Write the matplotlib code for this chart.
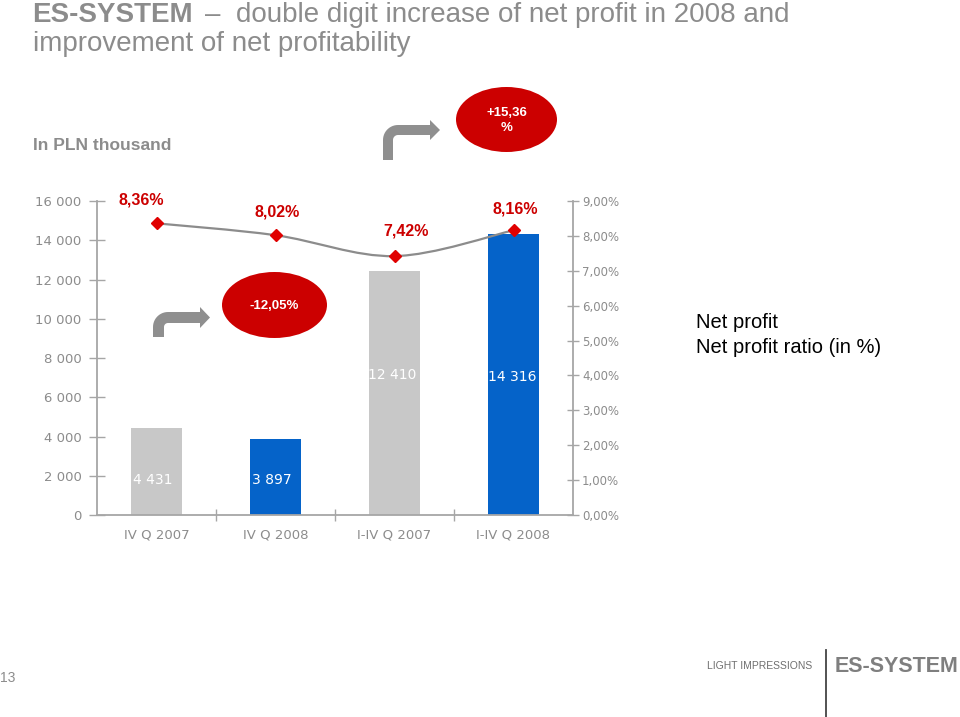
import numpy as np
import matplotlib
matplotlib.use("Agg")
import matplotlib.pyplot as plt
from matplotlib.patches import Ellipse, Polygon, PathPatch
from matplotlib.path import Path
from matplotlib.ticker import FixedLocator

# ---------------- data ----------------
categories = ["IV Q 2007", "IV Q 2008", "I-IV Q 2007", "I-IV Q 2008"]
net_profit = [4431, 3897, 12410, 14316]
net_profit_labels = ["4 431", "3 897", "12 410", "14 316"]
profit_ratio = [8.36, 8.02, 7.42, 8.16]
ratio_labels = ["8,36%", "8,02%", "7,42%", "8,16%"]
left_ticks = [0, 2000, 4000, 6000, 8000, 10000, 12000, 14000, 16000]
left_tick_labels = ["0", "2 000", "4 000", "6 000", "8 000", "10 000", "12 000", "14 000", "16 000"]
right_ticks = [0, 1, 2, 3, 4, 5, 6, 7, 8, 9]
right_tick_labels = ["0,00%", "1,00%", "2,00%", "3,00%", "4,00%", "5,00%", "6,00%", "7,00%", "8,00%", "9,00%"]
change_quarter = "-12,05%"
change_year = "+15,36\n%"

# ---------------- style ----------------
W, H = 960, 717
GRAY_TXT = "#8c8c8c"
AX_GRAY = "#a6a6a6"
RED = "#cc0000"
BAR_COLORS = ["#c8c8c8", "#0563c9", "#c8c8c8", "#0563c9"]
SANS = ["Liberation Sans", "DejaVu Sans"]
TICKF = ["DejaVu Sans"]

fig = plt.figure(figsize=(W / 100, H / 100), dpi=100)
fig.patch.set_facecolor("white")

def fx(x):
    return x / W

def fy(y):
    return 1 - y / H

ax_left, ax_right, ax_top, ax_bot = 97, 573, 201, 515
ax = fig.add_axes([fx(ax_left), fy(ax_bot), (ax_right - ax_left) / W, (ax_bot - ax_top) / H])
ax2 = ax.twinx()

x = np.arange(len(categories))
ax.bar(x, net_profit, width=0.43, color=BAR_COLORS, zorder=2)
ax.set_xlim(-0.5, len(categories) - 0.5)
ax.set_ylim(0, 16000)
ax.set_yticks(left_ticks)
ax.set_yticklabels(left_tick_labels, fontsize=9.5, color=GRAY_TXT, family=TICKF)
ax.set_xticks(x)
ax.set_xticklabels(categories, fontsize=9.5, color=GRAY_TXT, family=TICKF)
ax.xaxis.set_minor_locator(FixedLocator([0.5, 1.5, 2.5]))
ax.tick_params(axis="x", which="major", length=0, pad=10)
ax.tick_params(axis="x", which="minor", direction="inout", length=9, color=AX_GRAY, width=1)
ax.tick_params(axis="y", direction="inout", length=12, color=AX_GRAY, width=1, pad=5)
for s in ["top", "right"]:
    ax.spines[s].set_visible(False)
for s in ["left", "bottom"]:
    ax.spines[s].set_color(AX_GRAY)
    ax.spines[s].set_linewidth(1.3)

# value labels inside bars
label_y = [1780, 1780, 7130, 7030]
label_dx = [-0.03, -0.03, -0.02, -0.01]
for i, (lab, ly) in enumerate(zip(net_profit_labels, label_y)):
    ax.text(i + label_dx[i], ly, lab, color="white", fontsize=10, family=TICKF,
            ha="center", va="center", zorder=3)

# ratio line on secondary axis
ax2.set_ylim(0, 9)
ax2.set_yticks(right_ticks)
ax2.set_yticklabels(right_tick_labels, fontsize=8.5, color=GRAY_TXT, family=TICKF)
ax2.tick_params(axis="y", direction="inout", length=9, color=AX_GRAY, width=1, pad=2)
for s in ["top", "left", "bottom"]:
    ax2.spines[s].set_visible(False)
ax2.spines["right"].set_color(AX_GRAY)
ax2.spines["right"].set_linewidth(1.3)

# smoothed line (Catmull-Rom as cubic Bezier path through the data points)
px = list(x.astype(float))
py = list(profit_ratio)
verts = [(px[0], py[0])]
codes = [Path.MOVETO]
n = len(px)
for i in range(n - 1):
    p0 = (px[max(i - 1, 0)], py[max(i - 1, 0)])
    p1 = (px[i], py[i])
    p2 = (px[i + 1], py[i + 1])
    p3 = (px[min(i + 2, n - 1)], py[min(i + 2, n - 1)])
    c1 = (p1[0] + (p2[0] - p0[0]) / 6, p1[1] + (p2[1] - p0[1]) / 6)
    c2 = (p2[0] - (p3[0] - p1[0]) / 6, p2[1] - (p3[1] - p1[1]) / 6)
    verts += [c1, c2, p2]
    codes += [Path.CURVE4] * 3
ax2.add_patch(PathPatch(Path(verts, codes), facecolor="none", edgecolor="#8c8c8c", lw=1.6, zorder=3))
ax2.plot(x, profit_ratio, linestyle="none", marker="D", markersize=6.5, color="#e00000", zorder=4)

label_offsets = [(-11, 17), (1, 17), (8, 18), (1, 15)]
for i, (lab, off) in enumerate(zip(ratio_labels, label_offsets)):
    ax2.annotate(lab, (x[i], profit_ratio[i]), xytext=off, textcoords="offset points",
                 ha="center", va="center", color="#cc0000", fontsize=11.5,
                 fontweight="bold", family=SANS, zorder=5)

# ---------------- decorations ----------------
fig.text(fx(32), fy(22), "ES-SYSTEM", fontsize=20, fontweight="bold", color=GRAY_TXT,
         family=SANS, ha="left", va="baseline")
fig.text(fx(205), fy(22), "–  double digit increase of net profit in 2008 and", fontsize=20,
         color=GRAY_TXT, family=SANS, ha="left", va="baseline")
fig.text(fx(33), fy(51), "improvement of net profitability", fontsize=20,
         color=GRAY_TXT, family=SANS, ha="left", va="baseline")
fig.text(fx(33), fy(146), "In PLN thousand", fontsize=12.5, fontweight="bold", color=GRAY_TXT,
         family=SANS, ha="left", va="center")

fig.text(fx(696), fy(323), "Net profit", fontsize=14.5, color="black", family=SANS, ha="left", va="center")
fig.text(fx(696), fy(348), "Net profit ratio (in %)", fontsize=14.5, color="black", family=SANS,
         ha="left", va="center")


def bent_arrow(x0, yb, w, arm_top, xh, xtip, hh, R):
    pts = [(x0, yb), (x0, arm_top + R)]
    for t in np.linspace(np.pi, 1.5 * np.pi, 14):
        pts.append((x0 + R + R * np.cos(t), arm_top + R + R * np.sin(t)))
    ym = arm_top + w / 2
    pts += [(xh, arm_top), (xh, ym - hh), (xtip, ym), (xh, ym + hh), (xh, arm_top + w)]
    ri = max(R - w, 1.5)
    for t in np.linspace(1.5 * np.pi, np.pi, 14):
        pts.append((x0 + w + ri + ri * np.cos(t), arm_top + w + ri + ri * np.sin(t)))
    pts.append((x0 + w, yb))
    poly = Polygon([(fx(a), fy(b)) for a, b in pts], closed=True, facecolor="#8f8f8f",
                   edgecolor="none", transform=fig.transFigure, zorder=6)
    fig.patches.append(poly)

bent_arrow(383, 160, 10, 125, 430, 440, 10, 15)
bent_arrow(153, 337, 11, 312, 200, 210, 10.5, 15)

for (cx, cy, ew, eh, txt) in [(506.5, 119.5, 101, 65, change_year), (274.5, 305, 105, 66, change_quarter)]:
    e = Ellipse((fx(cx), fy(cy)), ew / W, eh / H, facecolor=RED, edgecolor="none",
                transform=fig.transFigure, zorder=6)
    fig.patches.append(e)
    fig.text(fx(cx), fy(cy + 1), txt, color="white", fontsize=9.5, fontweight="bold",
             family=SANS, ha="center", va="center", linespacing=1.3, zorder=7)

# footer
fig.text(fx(8), fy(678), "13", fontsize=10, color=GRAY_TXT, family=SANS, ha="center", va="center")
fig.text(fx(812), fy(666), "LIGHT IMPRESSIONS", fontsize=7.5, color="#6f6f6f", family=SANS,
         ha="right", va="center")
fig.add_artist(plt.Line2D([fx(826), fx(826)], [fy(650), fy(717)], color="#444444", lw=1.3,
                          transform=fig.transFigure))
fig.text(fx(835), fy(667), "ES-SYSTEM", fontsize=15.5, fontweight="bold", color="#7f7f7f",
         family=SANS, ha="left", va="center")

fig.savefig("out.png", dpi=100, facecolor="white")
